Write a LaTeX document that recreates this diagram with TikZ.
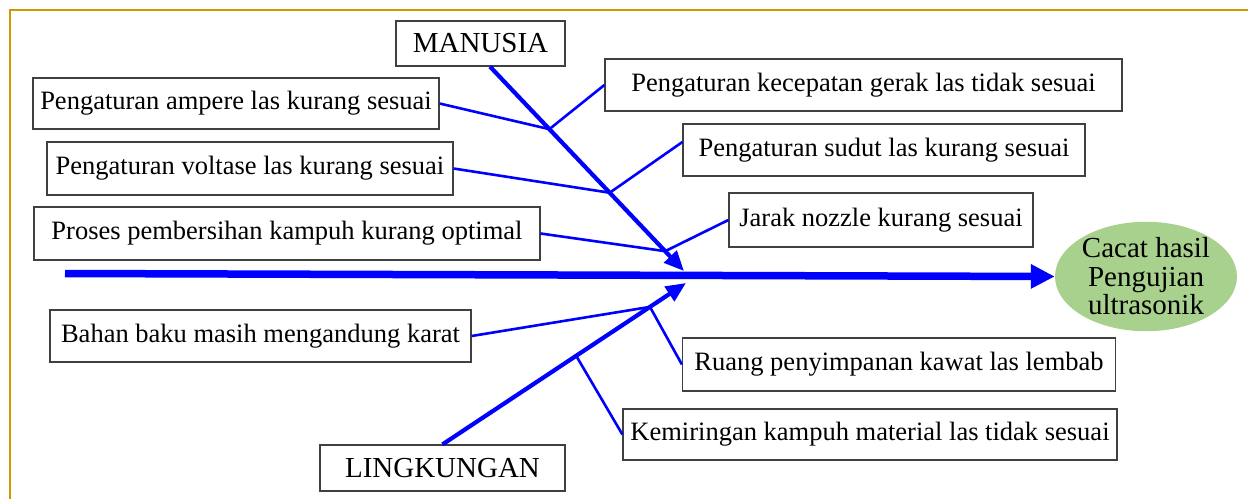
\documentclass[tikz,border=0pt]{standalone}
\usepackage{fontspec}
\setmainfont{Liberation Serif}
\usetikzlibrary{arrows.meta, shapes.geometric, calc}
\definecolor{framegold}{RGB}{204,153,0}
\definecolor{effectgreen}{RGB}{169,209,142}

\begin{document}
\begin{tikzpicture}[x=1pt, y=-1pt,
    cause/.style={draw=black!75, line width=1.2pt, minimum height=52pt,
                  inner sep=0pt, align=center,
                  font=\fontsize{26.5}{28}\selectfont},
    group/.style={draw=black!75, line width=1.2pt, minimum height=45pt,
                  inner sep=0pt, font=\fontsize{29}{31}\selectfont},
    effect/.style={ellipse, fill=effectgreen, minimum width=182pt,
                   minimum height=109pt, inner sep=0pt, align=center,
                   font=\fontsize{29}{28.5}\selectfont},
    spine/.style={-{Triangle[length=24pt, width=23pt]}, line width=7.5pt, blue},
    bone/.style={-{Triangle[length=20pt, width=17pt]}, line width=4.2pt, blue},
    twig/.style={line width=2.6pt, blue},
  ]
  \useasboundingbox (0,0) rectangle (1248,499);
  % Frame
  \draw[framegold, line width=2.2pt] (10,499) -- (10,10) -- (1248,10);

  % Categories and effect
  \node[group, minimum width=169pt] (manusia) at (480.5,43.5) {MANUSIA};
  \node[group, minimum width=245pt, minimum height=46pt] (lingkungan) at (442.5,468) {LINGKUNGAN};
  \node[effect] (cacat) at (1146,276.5) {Cacat hasil\\Pengujian\\ultrasonik};

  % Causes, left side
  \node[cause, minimum width=406pt, minimum height=51pt] (ampere) at (236,103.5)
       {Pengaturan ampere las kurang sesuai};
  \node[cause, minimum width=406pt, minimum height=53pt] (voltase) at (250,168.5)
       {Pengaturan voltase las kurang sesuai};
  \node[cause, minimum width=506pt, minimum height=53pt] (proses) at (287,233.5)
       {Proses pembersihan kampuh kurang optimal};
  \node[cause, minimum width=421pt] (bahan) at (260.5,336)
       {Bahan baku masih mengandung karat};

  % Causes, right side
  \node[cause, minimum width=517pt] (kecepatan) at (863.5,85)
       {Pengaturan kecepatan gerak las tidak sesuai};
  \node[cause, minimum width=402pt] (sudut) at (884,150)
       {Pengaturan sudut las kurang sesuai};
  \node[cause, minimum width=304pt, minimum height=54pt] (jarak) at (881,220)
       {Jarak nozzle kurang sesuai};
  \node[cause, minimum width=433pt, minimum height=53pt] (ruang) at (899,364.5)
       {Ruang penyimpanan kawat las lembab};
  \node[cause, minimum width=494pt, minimum height=51pt] (kemiringan) at (870,434.5)
       {Kemiringan kampuh material las tidak sesuai};

  % Spine and bones
  \coordinate (tail) at (65,273.5);
  \coordinate (tipM) at (684,271);
  \coordinate (tipL) at (686,283);
  \draw[spine] (tail) -- (cacat.west);
  \draw[bone] ($(manusia.south)+(9.5,0)$) -- coordinate[pos=0.306] (jM1)
       coordinate[pos=0.617] (jM2) coordinate[pos=0.903] (jM3) (tipM);
  \draw[bone] (lingkungan.north) -- coordinate[pos=0.549] (jL1)
       coordinate[pos=0.852] (jL2) (tipL);

  % Twigs
  \draw[twig] (ampere.east) -- (jM1);
  \draw[twig] (kecepatan.west) -- (jM1);
  \draw[twig] (voltase.east) -- (jM2);
  \draw[twig] ($(sudut.west)+(0,-8)$) -- (jM2);
  \draw[twig] (proses.east) -- (jM3);
  \draw[twig] (jarak.west) -- (jM3);
  \draw[twig] (bahan.east) -- (jL2);
  \draw[twig] (ruang.west) -- (jL2);
  \draw[twig] (kemiringan.west) -- (jL1);
\end{tikzpicture}
\end{document}
